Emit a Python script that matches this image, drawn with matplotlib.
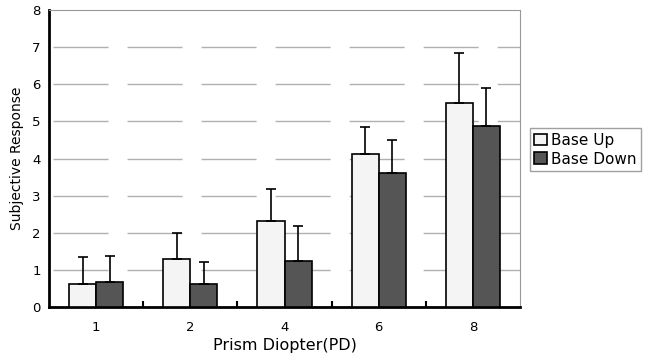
import matplotlib.pyplot as plt
import numpy as np

# values
categories = ["1", "2", "4", "6", "8"]
base_up = [0.61, 1.29, 2.32, 4.13, 5.49]
base_up_sd = [0.75, 0.71, 0.85, 0.71, 1.34]
base_down = [0.68, 0.61, 1.23, 3.61, 4.88]
base_down_sd = [0.70, 0.61, 0.95, 0.89, 1.02]


def main() -> None:
    fig = plt.figure(figsize=(6.51, 3.58), dpi=100)
    ax = fig.add_axes([0.0753, 0.1425, 0.7235, 0.8295])

    x = np.arange(len(categories))
    w = 0.287
    err_kw = dict(ecolor="black", elinewidth=1.2, capsize=3.5, capthick=1.2)
    ax.bar(x - w / 2, base_up, w, color="#f4f4f4", edgecolor="black",
           linewidth=1.2, yerr=[np.zeros(len(x)), base_up_sd],
           error_kw=err_kw, label="Base Up", zorder=3)
    ax.bar(x + w / 2, base_down, w, color="#555555", edgecolor="black",
           linewidth=1.2, yerr=[np.zeros(len(x)), base_down_sd],
           error_kw=err_kw, label="Base Down", zorder=3)

    ax.set_xlim(-0.5, len(categories) - 0.5)
    ax.set_ylim(0, 8)
    ax.set_yticks(range(0, 9))
    ax.set_xticks(x)
    ax.set_xticklabels(categories, fontsize=9.5)
    ax.set_xticks(np.arange(0.5, len(categories) - 0.5), minor=True)
    ax.tick_params(axis="x", which="major", length=0, pad=10)
    ax.tick_params(axis="x", which="minor", direction="in", length=4, width=1.5)
    ax.tick_params(axis="y", length=0, labelsize=9.5, pad=6)

    # long gray dashes for the horizontal grid
    for y in range(1, 8):
        ax.axhline(y, color="#b0b0b0", linewidth=1,
                   linestyle=(50.4, (39.6, 13.7)), dash_capstyle="butt",
                   zorder=1)

    ax.spines["left"].set_linewidth(2)
    ax.spines["bottom"].set_linewidth(2)
    ax.spines["top"].set_color("#999999")
    ax.spines["right"].set_color("#999999")

    ax.set_xlabel("Prism Diopter(PD)", fontsize=11.5, labelpad=3)
    ax.set_ylabel("Subjective Response", fontsize=10, labelpad=6)

    leg = ax.legend(loc="center left", bbox_to_anchor=(1.021, 0.53),
                    fontsize=11, fancybox=False, edgecolor="#888888",
                    handlelength=0.8, handleheight=0.8, handletextpad=0.3,
                    borderpad=0.3, labelspacing=0.25, borderaxespad=0)
    leg.get_frame().set_linewidth(1)

    plt.savefig("out.png", dpi=100)


if __name__ == "__main__":
    main()
